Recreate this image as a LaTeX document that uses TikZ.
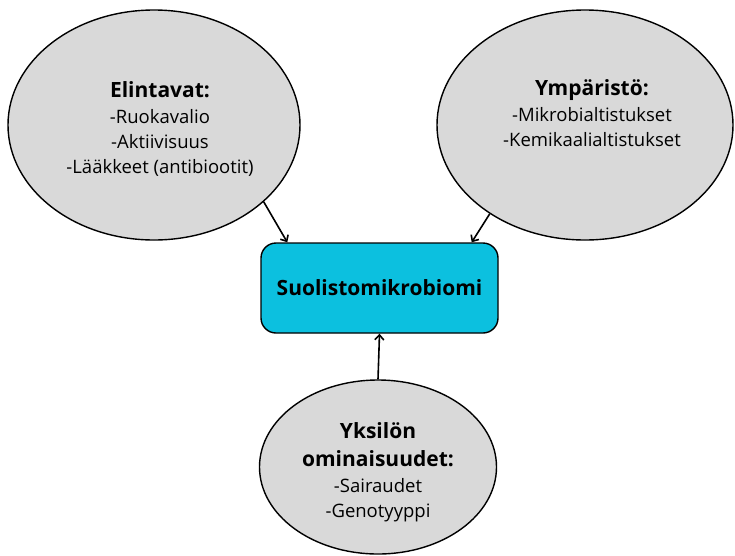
\documentclass[tikz,border=0pt]{standalone}
\usepackage{fontspec}
\setmainfont{Open Sans}
\usetikzlibrary{shapes.geometric,arrows.meta}
\definecolor{ellgray}{HTML}{D9D9D9}
\definecolor{boxcyan}{HTML}{0CC0DF}
\newcommand\ttlfont{\bfseries\fontsize{21}{26}\selectfont}
\begin{document}
\begin{tikzpicture}[x=1pt,y=-1pt,
  ell/.style={ellipse,draw=black,line width=1.4pt,fill=ellgray,inner sep=0pt},
  hub/.style={rectangle,rounded corners=15pt,draw=black,line width=1.4pt,fill=boxcyan,
    minimum width=237pt,minimum height=90pt,inner sep=0pt,
    font=\bfseries\fontsize{21}{25}\selectfont},
  lbl/.style={align=center,inner sep=0pt,anchor=north,font=\fontsize{18.5}{25}\selectfont},
  arr/.style={-{Straight Barb[length=5pt,width=9pt,line width=1.6pt]},line width=1.6pt}]
\useasboundingbox (0,0) rectangle (735,555);
\node[ell,minimum width=292pt,minimum height=230pt] (L) at (154,125) {};
\node[ell,minimum width=296pt,minimum height=230pt] (R) at (585,125) {};
\node[ell,minimum width=237pt,minimum height=174pt] (D) at (378,467) {};
\node[hub] (B) at (379.5,288) {Suolistomikrobiomi};
\node[lbl] (Lt) at (160,81) {{\ttlfont Elintavat:}\\[1pt]-Ruokavalio\\-Aktiivisuus\\-Lääkkeet (antibiootit)};
\node[lbl] (Rt) at (592,79) {{\ttlfont Ympäristö:}\\[1pt]-Mikrobialtistukset\\-Kemikaalialtistukset};
\node[lbl] (Dt) at (378,422) {{\ttlfont Yksilön}\\[3pt]{\ttlfont ominaisuudet:}\\[1pt]-Sairaudet\\-Genotyyppi};
\draw[arr] (L.-35) -- ([xshift=27pt]B.north west);
\draw[arr] (R.-137) -- ([xshift=-27pt]B.north east);
\draw[arr] (D.north) -- (B.south);
\end{tikzpicture}
\end{document}
